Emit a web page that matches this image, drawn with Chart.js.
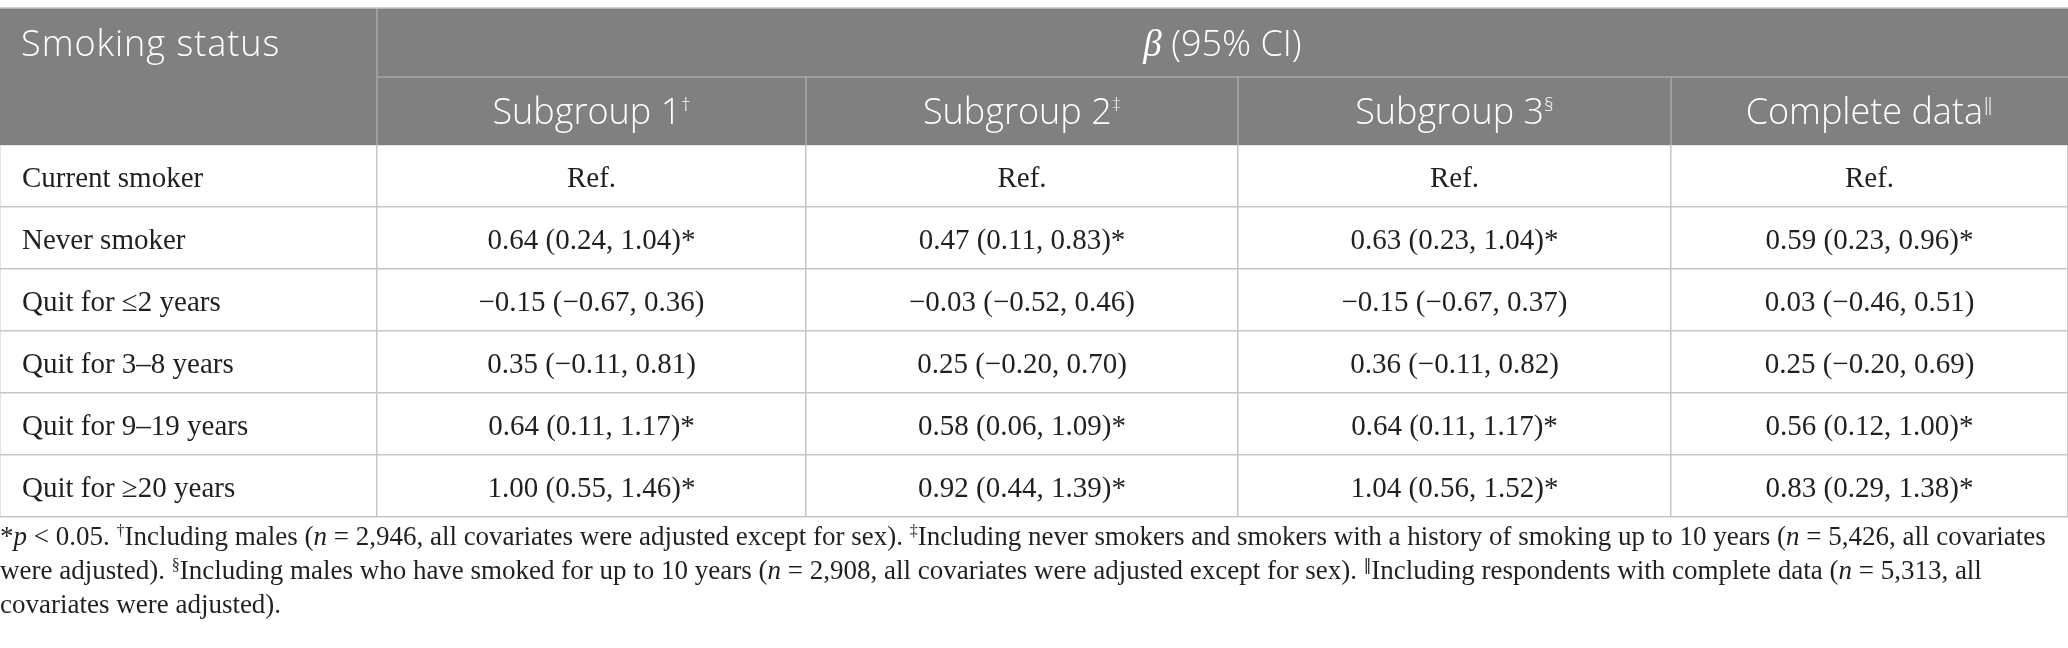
<!DOCTYPE html>
<html>
<head>
<meta charset="utf-8">
<script src="https://cdn.jsdelivr.net/npm/chart.js@4.4.1/dist/chart.umd.min.js"></script>
<style>
  html, body { margin: 0; padding: 0; background: #fff; }
  canvas { display: block; }
</style>
</head>
<body>
<canvas id="table" width="2068" height="648"></canvas>
<script>
// ---- data -------------------------------------------------------------
const rowLabels = [
    'Current smoker',
    'Never smoker',
    'Quit for \u22642 years',
    'Quit for 3\u20138 years',
    'Quit for 9\u201319 years',
    'Quit for \u226520 years'
];
const columnTitles = ['Subgroup 1', 'Subgroup 2', 'Subgroup 3', 'Complete data'];
const columnMarks = ['\u2020', '\u2021', '\u00a7', '\u2016'];

// beta and 95% CI, null = reference category
const sub1Beta = [null, 0.64, -0.15, 0.35, 0.64, 1.00];
const sub1Low  = [null, 0.24, -0.67, -0.11, 0.11, 0.55];
const sub1High = [null, 1.04, 0.36, 0.81, 1.17, 1.46];

const sub2Beta = [null, 0.47, -0.03, 0.25, 0.58, 0.92];
const sub2Low  = [null, 0.11, -0.52, -0.20, 0.06, 0.44];
const sub2High = [null, 0.83, 0.46, 0.70, 1.09, 1.39];

const sub3Beta = [null, 0.63, -0.15, 0.36, 0.64, 1.04];
const sub3Low  = [null, 0.23, -0.67, -0.11, 0.11, 0.56];
const sub3High = [null, 1.04, 0.37, 0.82, 1.17, 1.52];

const allBeta = [null, 0.59, 0.03, 0.25, 0.56, 0.83];
const allLow  = [null, 0.23, -0.46, -0.20, 0.12, 0.29];
const allHigh = [null, 0.96, 0.51, 0.69, 1.00, 1.38];

// ---- layout -----------------------------------------------------------
const W = 2068, H = 648;
const COL_EDGES = [0, 377, 806, 1238, 1671, 2068];
const HEAD_TOP = 8, HEAD_MID = 77, BODY_TOP = 145, BODY_BOTTOM = 517;

const SANS = '"Open Sans", "Noto Sans", sans-serif';
const SERIF = '"Liberation Serif", "DejaVu Serif", serif';
const INK = '#231f20';

const columns = [
    { beta: sub1Beta, low: sub1Low, high: sub1High },
    { beta: sub2Beta, low: sub2Low, high: sub2High },
    { beta: sub3Beta, low: sub3Low, high: sub3High },
    { beta: allBeta, low: allLow, high: allHigh }
];

function fmt(v) {
    return (v < 0 ? '\u2212' : '') + Math.abs(v).toFixed(2);
}

function cellText(col, i) {
    if (col.beta[i] === null) return 'Ref.';
    const sig = col.low[i] > 0 || col.high[i] < 0;
    return `${fmt(col.beta[i])} (${fmt(col.low[i])}, ${fmt(col.high[i])})` + (sig ? '*' : '');
}

// draw a list of text runs, each with its own font / vertical shift
function drawRuns(ctx, runs, x, y, align) {
    let total = 0;
    runs.forEach(r => {
        ctx.font = r.font;
        r.w = ctx.measureText(r.text).width;
        total += r.w;
    });
    let cx = align === 'center' ? x - total / 2 : x;
    ctx.textAlign = 'left';
    ctx.textBaseline = 'alphabetic';
    runs.forEach(r => {
        ctx.font = r.font;
        ctx.fillText(r.text, cx, y + (r.dy || 0));
        cx += r.w;
    });
}

const footFont = '27px ' + SERIF;
const footItalic = 'italic 27px ' + SERIF;
const footSup = '16px ' + SERIF;
const footSupBar = '15px "DejaVu Sans", sans-serif';
const footLines = [
    [
        { text: '*', font: footFont }, { text: 'p', font: footItalic },
        { text: ' < 0.05. ', font: footFont }, { text: '\u2020', font: footSup, dy: -9 },
        { text: 'Including males (', font: footFont }, { text: 'n', font: footItalic },
        { text: ' = 2,946, all covariates were adjusted except for sex). ', font: footFont },
        { text: '\u2021', font: footSup, dy: -9 },
        { text: 'Including never smokers and smokers with a history of smoking up to 10 years (', font: footFont },
        { text: 'n', font: footItalic }, { text: ' = 5,426, all covariates', font: footFont }
    ],
    [
        { text: 'were adjusted). ', font: footFont }, { text: '\u00a7', font: footSup, dy: -9 },
        { text: 'Including males who have smoked for up to 10 years (', font: footFont },
        { text: 'n', font: footItalic },
        { text: ' = 2,908, all covariates were adjusted except for sex). ', font: footFont },
        { text: '\u2016', font: footSupBar, dy: -9 },
        { text: 'Including respondents with complete data (', font: footFont },
        { text: 'n', font: footItalic }, { text: ' = 5,313, all', font: footFont }
    ],
    [
        { text: 'covariates were adjusted).', font: footFont }
    ]
];

const tablePlugin = {
    id: 'tablePlugin',
    beforeDraw(chart) {
        const ctx = chart.ctx;
        ctx.save();
        ctx.fillStyle = '#ffffff';
        ctx.fillRect(0, 0, chart.width, chart.height);
        ctx.restore();
    },
    afterDatasetsDraw(chart) {
        const ctx = chart.ctx;
        const x = chart.scales.x, y = chart.scales.y;
        const px = v => x.getPixelForValue(v);
        const left = px(COL_EDGES[0]), right = px(COL_EDGES[5]);
        ctx.save();

        // header block
        ctx.fillStyle = '#808080';
        ctx.fillRect(left, HEAD_TOP, right - left, BODY_TOP - HEAD_TOP);
        ctx.strokeStyle = '#a8a8a8';
        ctx.lineWidth = 1.5;
        ctx.beginPath();
        ctx.moveTo(px(COL_EDGES[1]), HEAD_MID);
        ctx.lineTo(right, HEAD_MID);
        ctx.moveTo(px(COL_EDGES[1]), HEAD_TOP);
        ctx.lineTo(px(COL_EDGES[1]), BODY_TOP);
        for (let c = 2; c < 5; c++) {
            ctx.moveTo(px(COL_EDGES[c]), HEAD_MID);
            ctx.lineTo(px(COL_EDGES[c]), BODY_TOP);
        }
        ctx.stroke();
        ctx.strokeStyle = '#c4c4c4';
        ctx.beginPath();
        ctx.moveTo(left, HEAD_TOP);
        ctx.lineTo(right, HEAD_TOP);
        ctx.stroke();

        ctx.fillStyle = '#ffffff';
        const headFont = '300 36px ' + SANS;
        ctx.letterSpacing = '1px';
        drawRuns(ctx, [{ text: 'Smoking status', font: headFont }], left + 21, 56, 'left');
        ctx.letterSpacing = '0px';
        drawRuns(ctx, [
            { text: '\u03b2', font: 'italic 37px ' + SERIF },
            { text: ' (95% CI)', font: headFont }
        ], (px(COL_EDGES[1]) + right) / 2, 56, 'center');
        columnTitles.forEach((t, i) => {
            const cx = (px(COL_EDGES[i + 1]) + px(COL_EDGES[i + 2])) / 2;
            drawRuns(ctx, [
                { text: t, font: headFont },
                { text: columnMarks[i], font: '300 19px ' + SANS, dy: -13 }
            ], cx, 124, 'center');
        });

        // body text
        ctx.fillStyle = INK;
        const bodyFont = '29px ' + SERIF;
        rowLabels.forEach((r, i) => {
            drawRuns(ctx, [{ text: r, font: bodyFont }], left + 22, y.getPixelForValue(i) + 11, 'left');
        });
        chart.data.datasets.forEach((ds, di) => {
            chart.getDatasetMeta(di).data.forEach((pt, i) => {
                drawRuns(ctx, [{ text: ds.data[i].text, font: bodyFont }], pt.x, pt.y + 11, 'center');
            });
        });

        // footnote
        footLines.forEach((line, i) => {
            drawRuns(ctx, line, left, 545 + i * 34, 'left');
        });
        ctx.restore();
    }
};

new Chart(document.getElementById('table'), {
    type: 'scatter',
    data: {
        datasets: columns.map((col, ci) => ({
            label: columnTitles[ci],
            data: rowLabels.map((r, i) => ({
                x: (COL_EDGES[ci + 1] + COL_EDGES[ci + 2]) / 2,
                y: r,
                text: cellText(col, i)
            })),
            pointRadius: 0,
            pointHoverRadius: 0
        }))
    },
    options: {
        responsive: false,
        animation: false,
        devicePixelRatio: 1,
        events: [],
        layout: { padding: { left: 0, right: 0, top: BODY_TOP, bottom: H - BODY_BOTTOM } },
        plugins: { legend: { display: false }, tooltip: { enabled: false } },
        scales: {
            x: {
                type: 'linear',
                min: 0,
                max: W,
                afterBuildTicks: s => { s.ticks = COL_EDGES.map(v => ({ value: v })); },
                ticks: { display: false },
                grid: { color: '#c6c6c6', lineWidth: 1.5, drawTicks: false },
                border: { display: false }
            },
            y: {
                type: 'category',
                labels: rowLabels,
                offset: true,
                ticks: { display: false },
                grid: { offset: true, color: '#c6c6c6', lineWidth: 1.5, drawTicks: false },
                border: { display: false }
            }
        }
    },
    plugins: [tablePlugin]
});
</script>
</body>
</html>
